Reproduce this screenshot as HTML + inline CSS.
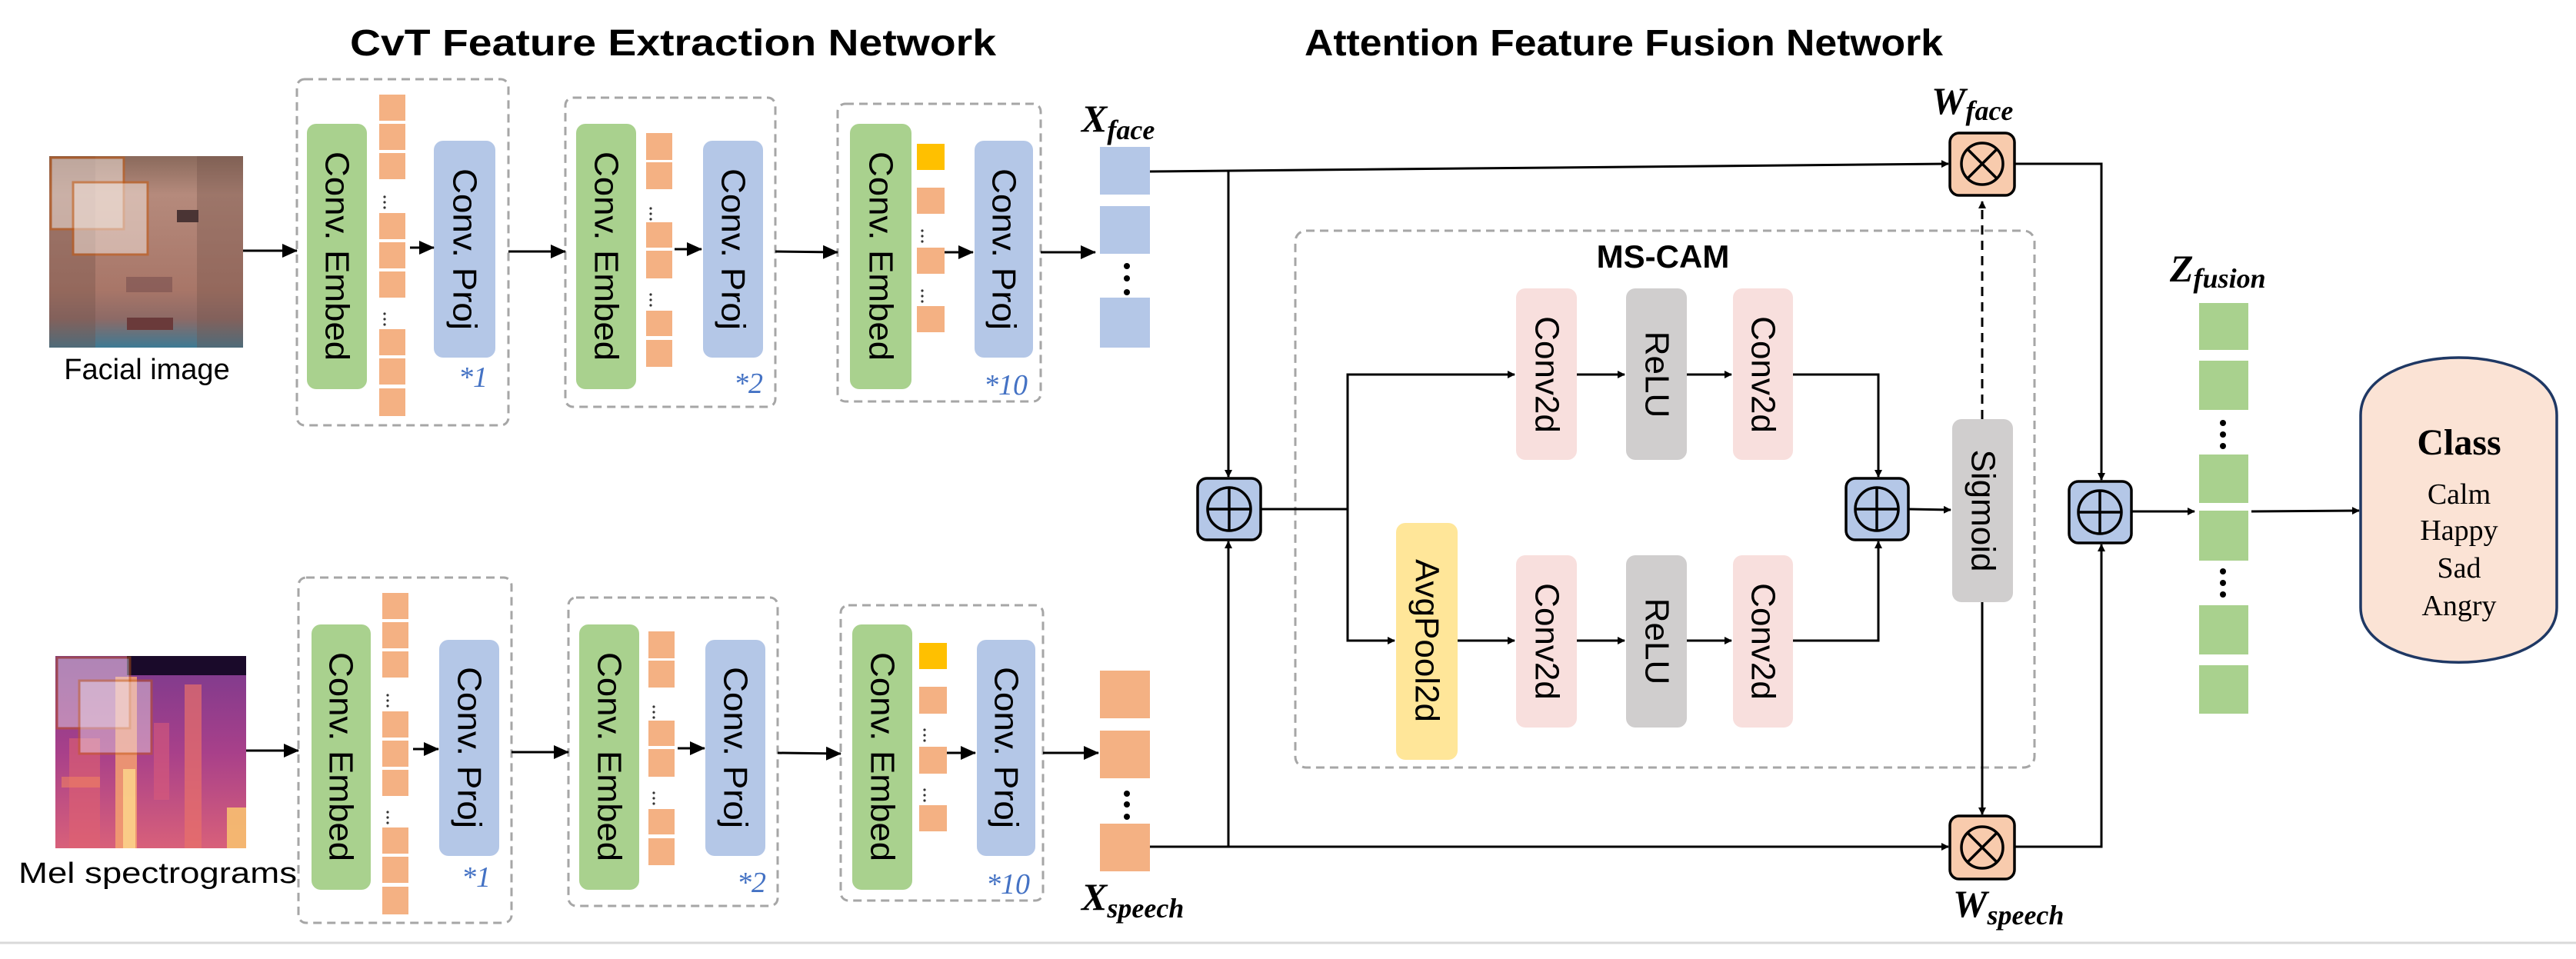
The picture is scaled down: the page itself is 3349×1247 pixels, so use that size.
<!DOCTYPE html>
<html><head><meta charset="utf-8"><style>
html,body{margin:0;padding:0;background:#fff;}
svg{display:block;}
.s{font-family:"Liberation Sans",sans-serif;}
.m{font-family:"Liberation Serif",serif;font-weight:bold;font-style:italic;}
</style></head><body>
<svg width="3349" height="1247" viewBox="0 0 3349 1247" xmlns="http://www.w3.org/2000/svg">
<defs>
<marker id="a" markerWidth="10" markerHeight="10" refX="9" refY="5" orient="auto" markerUnits="userSpaceOnUse" viewBox="0 0 10 10"><path d="M0,0 L10,5 L0,10 z" fill="#000"/></marker>
<marker id="b" markerWidth="20" markerHeight="18" refX="19" refY="9" orient="auto" markerUnits="userSpaceOnUse" viewBox="0 0 20 18"><path d="M0,0 L20,9 L0,18 z" fill="#000"/></marker>
<linearGradient id="face" x1="0" y1="0" x2="0" y2="1">
<stop offset="0" stop-color="#8a6a5c"/><stop offset="0.2" stop-color="#b58a7c"/><stop offset="0.7" stop-color="#a87668"/><stop offset="0.85" stop-color="#8d6a66"/><stop offset="1" stop-color="#3d7a94"/></linearGradient>
<linearGradient id="mel" x1="0" y1="0" x2="0" y2="1">
<stop offset="0" stop-color="#7a3a8e"/><stop offset="0.5" stop-color="#a8408a"/><stop offset="1" stop-color="#d8607a"/></linearGradient>
</defs>
<rect width="3349" height="1247" fill="#fff"/>
<line x1="0" y1="1226" x2="3349" y2="1226" stroke="#d9d9d9" stroke-width="3"/>

<!-- Titles -->
<text x="455" y="72" class="s" font-size="48" font-weight="bold" textLength="840" lengthAdjust="spacingAndGlyphs">CvT  Feature Extraction Network</text>
<text x="1696" y="72" class="s" font-size="48" font-weight="bold" textLength="830" lengthAdjust="spacingAndGlyphs">Attention Feature Fusion Network</text>

<!-- Face image -->
<rect x="64" y="203" width="252" height="249" fill="url(#face)"/>
<rect x="64" y="203" width="60" height="249" fill="#6f4f48" opacity="0.35"/>
<rect x="256" y="203" width="60" height="249" fill="#6f4f48" opacity="0.35"/>
<rect x="230" y="273" width="28" height="16" fill="#4a3434"/>
<rect x="164" y="360" width="60" height="20" fill="#7a5050" opacity="0.6"/>
<rect x="165" y="413" width="60" height="16" fill="#6a3a3a"/>
<rect x="66" y="205" width="95" height="93" fill="#f0e0d8" opacity="0.55" stroke="#c55a11" stroke-width="3"/>
<rect x="95" y="237" width="97" height="94" fill="#f0e0d8" opacity="0.55" stroke="#c55a11" stroke-width="3"/>
<text x="191" y="493" class="s" font-size="38" text-anchor="middle">Facial image</text>

<!-- Mel image -->
<rect x="72" y="853" width="248" height="250" fill="url(#mel)"/>
<rect x="165" y="853" width="155" height="25" fill="#1a0a2a"/>
<rect x="150" y="880" width="28" height="223" fill="#f4a070" opacity="0.85"/>
<rect x="160" y="1000" width="16" height="103" fill="#fbd08a" opacity="0.9"/>
<rect x="240" y="890" width="22" height="213" fill="#e8706a" opacity="0.7"/>
<rect x="90" y="960" width="40" height="143" fill="#e06070" opacity="0.6"/>
<rect x="200" y="940" width="20" height="100" fill="#d85a7a" opacity="0.6"/>
<rect x="80" y="1010" width="50" height="14" fill="#f08060" opacity="0.6"/>
<rect x="295" y="1050" width="25" height="53" fill="#f7c070" opacity="0.9"/>
<rect x="74" y="855" width="95" height="92" fill="#f0e0e8" opacity="0.45" stroke="#c55a11" stroke-width="3"/>
<rect x="103" y="885" width="94" height="95" fill="#f0e0e8" opacity="0.45" stroke="#c55a11" stroke-width="3"/>
<text x="24" y="1148" class="s" font-size="38" textLength="362" lengthAdjust="spacingAndGlyphs">Mel  spectrograms</text>

<!-- Dashed block boxes -->
<g fill="none" stroke="#a6a6a6" stroke-width="3" stroke-dasharray="11,7">
<rect x="386" y="103" width="275" height="450" rx="10"/>
<rect x="735" y="127" width="273" height="402" rx="10"/>
<rect x="1089" y="135" width="264" height="387" rx="10"/>
<rect x="388" y="751" width="277" height="449" rx="10"/>
<rect x="739" y="777" width="272" height="401" rx="10"/>
<rect x="1093" y="787" width="263" height="384" rx="10"/>
<rect x="1684" y="300" width="961" height="698" rx="14"/>
</g>

<!-- Green Conv Embed -->
<g fill="#a9d18e">
<rect x="399" y="161" width="78" height="345" rx="12"/>
<rect x="749" y="161" width="78" height="345" rx="12"/>
<rect x="1105" y="161" width="80" height="345" rx="12"/>
<rect x="405" y="812" width="77" height="345" rx="12"/>
<rect x="753" y="812" width="78" height="345" rx="12"/>
<rect x="1108" y="812" width="78" height="345" rx="12"/>
</g>
<!-- Blue Conv Proj -->
<g fill="#b4c7e7">
<rect x="564" y="183" width="80" height="282" rx="12"/>
<rect x="914" y="183" width="78" height="282" rx="12"/>
<rect x="1267" y="183" width="76" height="282" rx="12"/>
<rect x="571" y="832" width="78" height="281" rx="12"/>
<rect x="917" y="832" width="78" height="281" rx="12"/>
<rect x="1270" y="832" width="76" height="281" rx="12"/>
</g>
<g class="s" font-size="44" text-anchor="middle" fill="#000">
<text transform="translate(438,333) rotate(90)" dominant-baseline="central" textLength="272" lengthAdjust="spacingAndGlyphs">Conv. Embed</text>
<text transform="translate(788,333) rotate(90)" dominant-baseline="central" textLength="272" lengthAdjust="spacingAndGlyphs">Conv. Embed</text>
<text transform="translate(1145,333) rotate(90)" dominant-baseline="central" textLength="272" lengthAdjust="spacingAndGlyphs">Conv. Embed</text>
<text transform="translate(443,984) rotate(90)" dominant-baseline="central" textLength="272" lengthAdjust="spacingAndGlyphs">Conv. Embed</text>
<text transform="translate(792,984) rotate(90)" dominant-baseline="central" textLength="272" lengthAdjust="spacingAndGlyphs">Conv. Embed</text>
<text transform="translate(1147,984) rotate(90)" dominant-baseline="central" textLength="272" lengthAdjust="spacingAndGlyphs">Conv. Embed</text>
<text transform="translate(604,324) rotate(90)" dominant-baseline="central" textLength="210" lengthAdjust="spacingAndGlyphs">Conv. Proj</text>
<text transform="translate(953,324) rotate(90)" dominant-baseline="central" textLength="210" lengthAdjust="spacingAndGlyphs">Conv. Proj</text>
<text transform="translate(1305,324) rotate(90)" dominant-baseline="central" textLength="210" lengthAdjust="spacingAndGlyphs">Conv. Proj</text>
<text transform="translate(610,972) rotate(90)" dominant-baseline="central" textLength="210" lengthAdjust="spacingAndGlyphs">Conv. Proj</text>
<text transform="translate(956,972) rotate(90)" dominant-baseline="central" textLength="210" lengthAdjust="spacingAndGlyphs">Conv. Proj</text>
<text transform="translate(1308,972) rotate(90)" dominant-baseline="central" textLength="210" lengthAdjust="spacingAndGlyphs">Conv. Proj</text>
</g>
<!-- multipliers -->
<g font-family="Liberation Serif,serif" font-style="italic" font-size="38" fill="#4472c4">
<text x="596" y="503">*1</text>
<text x="954" y="511">*2</text>
<text x="1279" y="513">*10</text>
<text x="600" y="1153">*1</text>
<text x="958" y="1160">*2</text>
<text x="1282" y="1162">*10</text>
</g>

<!-- tokens -->
<g fill="#f4b183">
<rect x="493" y="123" width="34" height="34"/><rect x="493" y="161" width="34" height="34"/><rect x="493" y="199" width="34" height="34"/>
<rect x="493" y="277" width="34" height="34"/><rect x="493" y="315" width="34" height="34"/><rect x="493" y="353" width="34" height="34"/>
<rect x="493" y="428" width="34" height="34"/><rect x="493" y="466" width="34" height="34"/><rect x="493" y="505" width="34" height="36"/>
<rect x="840" y="173" width="34" height="35"/><rect x="840" y="211" width="34" height="35"/>
<rect x="840" y="289" width="34" height="33"/><rect x="840" y="326" width="34" height="36"/>
<rect x="840" y="404" width="34" height="33"/><rect x="840" y="442" width="34" height="35"/>
<rect x="1192" y="244" width="36" height="34"/><rect x="1192" y="322" width="36" height="34"/><rect x="1192" y="398" width="36" height="34"/>
<rect x="497" y="771" width="34" height="34"/><rect x="497" y="809" width="34" height="34"/><rect x="497" y="847" width="34" height="34"/>
<rect x="497" y="925" width="34" height="34"/><rect x="497" y="963" width="34" height="34"/><rect x="497" y="1001" width="34" height="34"/>
<rect x="497" y="1076" width="34" height="34"/><rect x="497" y="1114" width="34" height="34"/><rect x="497" y="1153" width="34" height="36"/>
<rect x="843" y="821" width="34" height="35"/><rect x="843" y="859" width="34" height="35"/>
<rect x="843" y="937" width="34" height="33"/><rect x="843" y="974" width="34" height="36"/>
<rect x="843" y="1052" width="34" height="33"/><rect x="843" y="1090" width="34" height="35"/>
<rect x="1195" y="893" width="36" height="35"/><rect x="1195" y="971" width="36" height="35"/><rect x="1195" y="1047" width="36" height="34"/>
</g>
<g fill="#ffc000">
<rect x="1192" y="187" width="36" height="34"/>
<rect x="1195" y="836" width="36" height="34"/>
</g>
<!-- small dots in token columns -->
<g fill="#333">
<circle cx="500" cy="256" r="1.6"/><circle cx="500" cy="263" r="1.6"/><circle cx="500" cy="270" r="1.6"/>
<circle cx="500" cy="408" r="1.6"/><circle cx="500" cy="415" r="1.6"/><circle cx="500" cy="422" r="1.6"/>
<circle cx="846" cy="271" r="1.6"/><circle cx="846" cy="278" r="1.6"/><circle cx="846" cy="285" r="1.6"/>
<circle cx="846" cy="383" r="1.6"/><circle cx="846" cy="390" r="1.6"/><circle cx="846" cy="397" r="1.6"/>
<circle cx="1199" cy="300" r="1.6"/><circle cx="1199" cy="307" r="1.6"/><circle cx="1199" cy="314" r="1.6"/>
<circle cx="1199" cy="378" r="1.6"/><circle cx="1199" cy="385" r="1.6"/><circle cx="1199" cy="392" r="1.6"/>
<circle cx="504" cy="904" r="1.6"/><circle cx="504" cy="911" r="1.6"/><circle cx="504" cy="918" r="1.6"/>
<circle cx="504" cy="1056" r="1.6"/><circle cx="504" cy="1063" r="1.6"/><circle cx="504" cy="1070" r="1.6"/>
<circle cx="850" cy="919" r="1.6"/><circle cx="850" cy="926" r="1.6"/><circle cx="850" cy="933" r="1.6"/>
<circle cx="850" cy="1031" r="1.6"/><circle cx="850" cy="1038" r="1.6"/><circle cx="850" cy="1045" r="1.6"/>
<circle cx="1202" cy="949" r="1.6"/><circle cx="1202" cy="956" r="1.6"/><circle cx="1202" cy="963" r="1.6"/>
<circle cx="1202" cy="1027" r="1.6"/><circle cx="1202" cy="1034" r="1.6"/><circle cx="1202" cy="1041" r="1.6"/>
</g>

<!-- X face / X speech -->
<g fill="#b4c7e7">
<rect x="1430" y="191" width="65" height="62"/><rect x="1430" y="268" width="65" height="62"/><rect x="1430" y="387" width="65" height="65"/>
</g>
<g fill="#f4b183">
<rect x="1430" y="872" width="65" height="62"/><rect x="1430" y="950" width="65" height="62"/><rect x="1430" y="1071" width="65" height="62"/>
</g>
<g fill="#000">
<circle cx="1465" cy="346" r="4"/><circle cx="1465" cy="362" r="4"/><circle cx="1465" cy="380" r="4"/>
<circle cx="1465" cy="1032" r="4"/><circle cx="1465" cy="1046" r="4"/><circle cx="1465" cy="1062" r="4"/>
<circle cx="2890" cy="550" r="4"/><circle cx="2890" cy="565" r="4"/><circle cx="2890" cy="580" r="4"/>
<circle cx="2890" cy="743" r="4"/><circle cx="2890" cy="758" r="4"/><circle cx="2890" cy="773" r="4"/>
</g>
<text x="1406" y="171" class="m" font-size="50">X<tspan font-size="36" dy="10">face</tspan></text>
<text x="1406" y="1183" class="m" font-size="50">X<tspan font-size="36" dy="10">speech</tspan></text>
<text x="2511" y="148" class="m" font-size="50">W<tspan font-size="36" dy="8">face</tspan></text>
<text x="2539" y="1192" class="m" font-size="50">W<tspan font-size="36" dy="10">speech</tspan></text>
<text x="2821" y="366" class="m" font-size="50">Z<tspan font-size="36" dy="8">fusion</tspan></text>

<!-- Arrows left parts -->
<g stroke="#000" stroke-width="3" fill="none" marker-end="url(#b)">
<line x1="316" y1="326" x2="386" y2="326"/>
<line x1="661" y1="327" x2="735" y2="327"/>
<line x1="1008" y1="327" x2="1089" y2="328"/>
<line x1="1353" y1="328" x2="1424" y2="328"/>
<line x1="533" y1="322" x2="564" y2="322"/>
<line x1="877" y1="324" x2="912" y2="324"/>
<line x1="1228" y1="328" x2="1265" y2="328"/>
<line x1="320" y1="976" x2="388" y2="976"/>
<line x1="665" y1="978" x2="739" y2="978"/>
<line x1="1011" y1="979" x2="1093" y2="980"/>
<line x1="1356" y1="979" x2="1428" y2="979"/>
<line x1="537" y1="974" x2="570" y2="974"/>
<line x1="881" y1="973" x2="916" y2="973"/>
<line x1="1231" y1="979" x2="1268" y2="979"/>
</g>

<!-- fusion connectors -->
<g stroke="#000" stroke-width="3" fill="none" marker-end="url(#a)">
<polyline points="1495,223 2533,213"/>
<polyline points="1597,223 1597,620"/>
<polyline points="1495,1101 2533,1101"/>
<polyline points="1597,1101 1597,704"/>
<polyline points="1752,662 1752,487 1969,487"/>
<polyline points="1752,662 1752,833 1813,833"/>
<polyline points="1895,833 1969,833"/>
<polyline points="2050,487 2112,487"/>
<polyline points="2193,487 2251,487"/>
<polyline points="2050,833 2112,833"/>
<polyline points="2193,833 2251,833"/>
<polyline points="2331,487 2442,487 2442,620"/>
<polyline points="2331,833 2442,833 2442,704"/>
<polyline points="2481,662 2536,663"/>
<polyline points="2577,783 2577,1059"/>
<polyline points="2619,213 2732,213 2732,624"/>
<polyline points="2619,1101 2732,1101 2732,708"/>
<polyline points="2771,665 2853,665"/>
<polyline points="2927,665 3067,664"/>
</g>
<line x1="1639" y1="662" x2="1752" y2="662" stroke="#000" stroke-width="3"/>
<line x1="2577" y1="545" x2="2577" y2="262" stroke="#000" stroke-width="3" stroke-dasharray="12,8" marker-end="url(#a)"/>

<!-- MS-CAM -->
<text x="2162" y="348" class="s" font-size="42" font-weight="bold" text-anchor="middle">MS-CAM</text>
<g>
<rect x="1971" y="375" width="79" height="223" rx="12" fill="#f8dfdd"/>
<rect x="2114" y="375" width="79" height="223" rx="12" fill="#d0cece"/>
<rect x="2253" y="375" width="78" height="223" rx="12" fill="#f8dfdd"/>
<rect x="1815" y="680" width="80" height="308" rx="12" fill="#ffe699"/>
<rect x="1971" y="722" width="79" height="224" rx="12" fill="#f8dfdd"/>
<rect x="2114" y="722" width="79" height="224" rx="12" fill="#d0cece"/>
<rect x="2253" y="722" width="78" height="224" rx="12" fill="#f8dfdd"/>
<rect x="2538" y="545" width="79" height="238" rx="12" fill="#d0cece"/>
</g>
<g class="s" font-size="44" text-anchor="middle">
<text transform="translate(2011,487) rotate(90)" dominant-baseline="central">Conv2d</text>
<text transform="translate(2154,487) rotate(90)" dominant-baseline="central">ReLU</text>
<text transform="translate(2292,487) rotate(90)" dominant-baseline="central">Conv2d</text>
<text transform="translate(1855,833) rotate(90)" dominant-baseline="central">AvgPool2d</text>
<text transform="translate(2011,834) rotate(90)" dominant-baseline="central">Conv2d</text>
<text transform="translate(2154,834) rotate(90)" dominant-baseline="central">ReLU</text>
<text transform="translate(2292,834) rotate(90)" dominant-baseline="central">Conv2d</text>
<text transform="translate(2578,664) rotate(90)" dominant-baseline="central">Sigmoid</text>
</g>

<!-- plus nodes -->
<g stroke="#000" stroke-width="3.5">
<rect x="1557" y="622" width="82" height="80" rx="12" fill="#b4c7e7"/>
<circle cx="1598" cy="662" r="28" fill="none"/><line x1="1570" y1="662" x2="1626" y2="662"/><line x1="1598" y1="634" x2="1598" y2="690"/>
<rect x="2400" y="622" width="81" height="80" rx="12" fill="#b4c7e7"/>
<circle cx="2440" cy="662" r="28" fill="none"/><line x1="2412" y1="662" x2="2468" y2="662"/><line x1="2440" y1="634" x2="2440" y2="690"/>
<rect x="2690" y="626" width="81" height="80" rx="12" fill="#b4c7e7"/>
<circle cx="2730" cy="666" r="28" fill="none"/><line x1="2702" y1="666" x2="2758" y2="666"/><line x1="2730" y1="638" x2="2730" y2="694"/>
<rect x="2535" y="173" width="84" height="81" rx="12" fill="#f8cbad"/>
<circle cx="2577" cy="213" r="27" fill="none"/><line x1="2558" y1="194" x2="2596" y2="232"/><line x1="2596" y1="194" x2="2558" y2="232"/>
<rect x="2535" y="1061" width="84" height="82" rx="12" fill="#f8cbad"/>
<circle cx="2577" cy="1102" r="27" fill="none"/><line x1="2558" y1="1083" x2="2596" y2="1121"/><line x1="2596" y1="1083" x2="2558" y2="1121"/>
</g>

<!-- Z fusion -->
<g fill="#a9d18e">
<rect x="2859" y="394" width="64" height="61"/><rect x="2859" y="469" width="64" height="64"/>
<rect x="2859" y="591" width="64" height="63"/><rect x="2859" y="664" width="64" height="65"/>
<rect x="2859" y="787" width="64" height="64"/><rect x="2859" y="865" width="64" height="63"/>
</g>

<!-- Class -->
<path d="M3069,540 C3069,440 3324,440 3324,540 L3324,790 C3324,885 3069,885 3069,790 Z" fill="#fbe3d5" stroke="#1f3864" stroke-width="3.5"/>
<g font-family="Liberation Serif,serif" text-anchor="middle" fill="#000">
<text x="3197" y="591" font-size="48" font-weight="bold">Class</text>
<text x="3197" y="655" font-size="38">Calm</text>
<text x="3197" y="702" font-size="38">Happy</text>
<text x="3197" y="751" font-size="38">Sad</text>
<text x="3197" y="800" font-size="38">Angry</text>
</g>
</svg>
</body></html>
